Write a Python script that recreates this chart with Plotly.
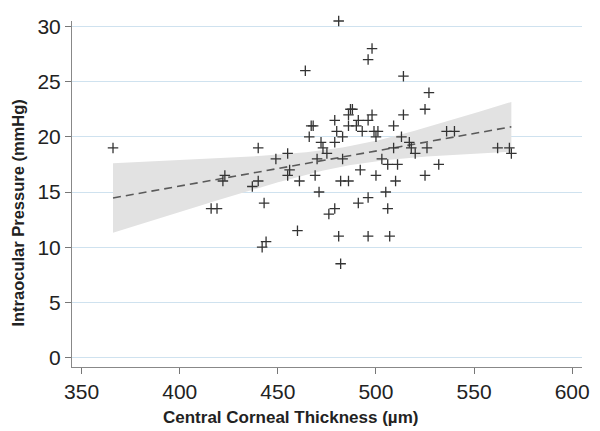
import numpy as np
import plotly.graph_objects as go

# Central corneal thickness (µm) and intraocular pressure (mmHg)
cct = [366, 416, 419, 422, 423, 437, 440, 440, 442, 444, 443, 449, 455, 455, 456,
       461, 460, 464, 466, 467, 468, 469, 470, 471, 472, 473, 475, 476, 479, 479,
       479, 480, 481, 481, 482, 482, 483, 483, 486, 486, 486, 487, 488, 490, 491,
       491, 492, 493, 496, 496, 496, 496, 498, 498, 499, 501, 500, 500, 503, 505,
       506, 506, 507, 509, 509, 510, 511, 513, 514, 514, 517, 518, 520, 525, 526,
       525, 527, 532, 536, 540, 562, 568, 569]
iop = [19, 13.5, 13.5, 16, 16.5, 15.5, 16, 19, 10, 10.5, 14, 18, 18.5, 16.5, 17,
       16, 11.5, 26, 20, 21, 21, 16.5, 18, 15, 19.5, 19, 18.5, 13, 13.5, 19.5,
       21.5, 20.5, 11, 30.5, 8.5, 16, 18, 20, 16, 21, 22, 22.5, 22.5, 21, 21.5,
       14, 17, 20.5, 21.5, 27, 14.5, 11, 28, 22, 20.5, 20.5, 20, 16.5, 18, 15,
       17.5, 13.5, 11, 19, 21, 16, 17.5, 20, 22, 25.5, 19.5, 19, 18.5, 22.5, 19,
       16.5, 24, 17.5, 20.5, 20.5, 19, 19, 18.5]

x_ticks = [350, 400, 450, 500, 550, 600]
y_ticks = [0, 5, 10, 15, 20, 25, 30]

x = np.array(cct, dtype=float)
y = np.array(iop, dtype=float)
n = len(x)
b, a = np.polyfit(x, y, 1)
resid = y - (a + b * x)
s = np.sqrt(np.sum(resid ** 2) / (n - 2))
xbar = x.mean()
sxx = np.sum((x - xbar) ** 2)
t_crit = 1.99
xf = np.linspace(x.min(), x.max(), 100)
yf = a + b * xf
se = s * np.sqrt(1.0 / n + (xf - xbar) ** 2 / sxx)
lo = yf - t_crit * se
hi = yf + t_crit * se

fig = go.Figure()
fig.add_trace(go.Scatter(
    x=np.concatenate([xf, xf[::-1]]), y=np.concatenate([hi, lo[::-1]]),
    fill="toself", fillcolor="#e2e2e2", line=dict(width=0),
    mode="lines", hoverinfo="skip", showlegend=False))
fig.add_trace(go.Scatter(
    x=xf, y=yf, mode="lines", line=dict(color="#5a5a5a", width=1.6, dash="8px,5px"),
    showlegend=False))
fig.add_trace(go.Scatter(
    x=cct, y=iop, mode="markers", cliponaxis=False,
    marker=dict(symbol="cross-thin", size=7.5, line=dict(width=1.3, color="#333333")),
    showlegend=False))

# page body has an 8px margin; size and margins compensate for it
fig.update_layout(
    width=592, height=423,
    margin=dict(l=64, r=18, t=7, b=64),
    paper_bgcolor="white", plot_bgcolor="white",
    font=dict(family="Liberation Sans, Arial, sans-serif", color="#222222"),
    xaxis=dict(range=[345.1, 605], tickvals=x_ticks, ticks="outside", ticklen=6,
               tickcolor="#777777", showgrid=False, showline=True, linecolor="#888888",
               linewidth=1, zeroline=False, tickfont=dict(size=21, color="#222222")),
    yaxis=dict(range=[-0.86, 30.5], tickvals=y_ticks, ticks="outside", ticklen=6,
               tickcolor="#777777", showgrid=True, gridcolor="#cfe2ef", gridwidth=1,
               showline=True, linecolor="#888888", linewidth=1, zeroline=False,
               tickfont=dict(size=21, color="#222222")),
    annotations=[
        dict(text="<b>Central Corneal Thickness (µm)</b>", xref="paper", yref="paper",
             x=0.429, y=-0.145, xanchor="center", yanchor="middle", showarrow=False,
             font=dict(size=17, color="#222222")),
        dict(text="<b>Intraocular Pressure (mmHg)</b>", xref="paper", yref="paper",
             x=-0.106, y=0.446, xanchor="center", yanchor="middle", showarrow=False,
             textangle=-90, font=dict(size=16.5, color="#222222")),
    ],
)
fig.write_html("out.html")
